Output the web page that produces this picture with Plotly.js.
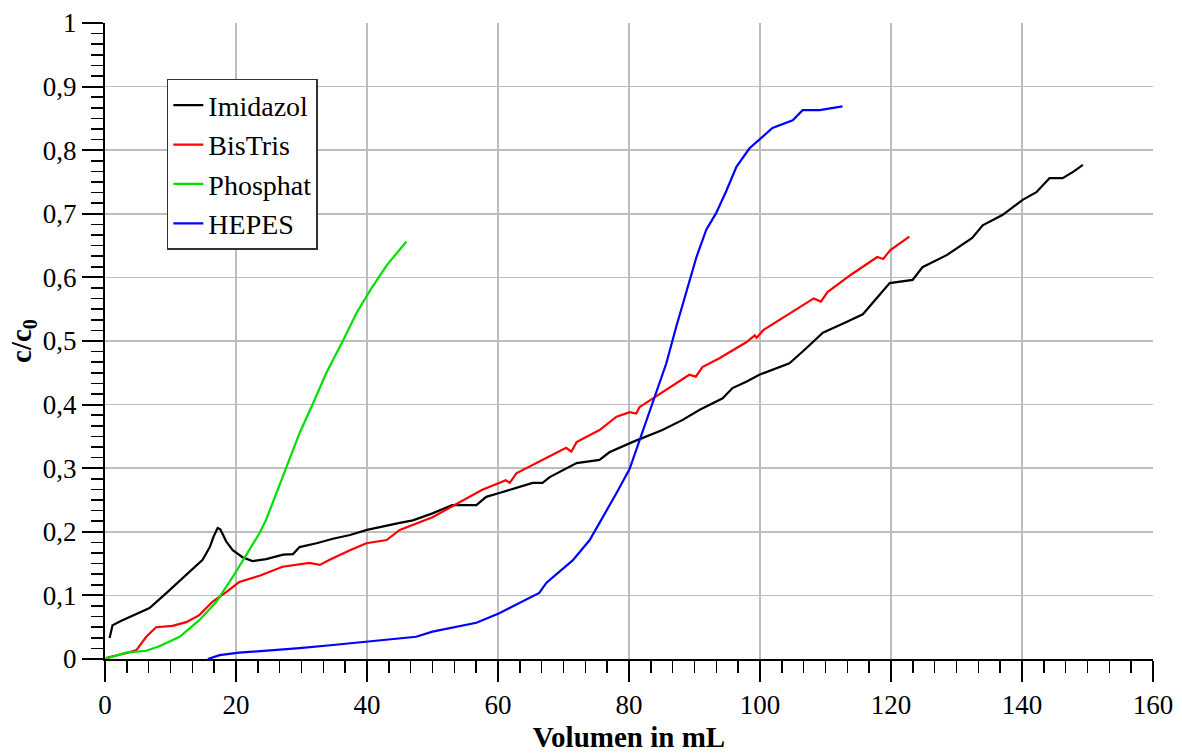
<!DOCTYPE html>
<html>
<head>
<meta charset="utf-8">
<script src="https://cdn.plot.ly/plotly-3.0.1.min.js"></script>
<style>html,body{margin:0;padding:0;background:#fff;}#chart{width:1182px;height:753px;}</style>
</head>
<body>
<div id="chart"></div>
<script>
// Series names
const seriesNames = ["Imidazol", "BisTris", "Phosphat", "HEPES"];

// Imidazol
const imidazolX = [0.7,1.15,2.5,4.2,6.8,9.4,11.8,14.9,16.0,16.6,17.2,17.6,18.5,19.5,21.0,22.5,24.6,27.2,28.7,29.7,32.3,34.8,37.4,40.0,45.0,47,50,53,56.7,58.2,60.2,65.3,66.8,67.9,72,75.5,77,80.5,85.1,88.2,90.8,94.3,95.8,97.9,99.9,104.5,107.1,109.6,113.2,115.7,119.8,123.3,124.8,128.5,132.4,134,137,140.1,142.2,144.2,146.2,147.8,149.3];
const imidazolC = [0.033,0.053,0.060,0.068,0.080,0.104,0.127,0.156,0.176,0.193,0.206,0.204,0.185,0.171,0.160,0.154,0.157,0.164,0.165,0.176,0.182,0.189,0.195,0.203,0.214,0.218,0.229,0.242,0.242,0.255,0.261,0.277,0.277,0.286,0.308,0.313,0.325,0.341,0.360,0.376,0.392,0.410,0.426,0.436,0.447,0.465,0.489,0.513,0.530,0.542,0.591,0.596,0.616,0.635,0.662,0.682,0.698,0.722,0.734,0.756,0.756,0.766,0.777];

// BisTris
const bistrisX = [0.2,3.2,4.8,6.3,7.8,10.3,12.4,14.4,16.4,18.5,20.5,23.6,27.1,31.2,32.8,34.3,37.4,39.9,43,45,50,57.6,61.2,61.8,62.8,70.4,71.2,72,75.5,78.1,80.1,81.1,81.6,85.7,89.2,90.2,91.2,93.8,97.9,99.2,99.5,100.5,104,108.2,109.3,110.3,114,117.9,118.8,119.9,122.8];
const bistrisC = [0.002,0.009,0.014,0.035,0.050,0.052,0.058,0.069,0.090,0.105,0.121,0.131,0.145,0.151,0.148,0.156,0.171,0.182,0.187,0.203,0.223,0.266,0.281,0.277,0.292,0.332,0.326,0.341,0.360,0.381,0.388,0.386,0.396,0.423,0.447,0.444,0.459,0.473,0.498,0.509,0.505,0.517,0.540,0.567,0.562,0.577,0.605,0.632,0.629,0.643,0.664];

// Phosphat
const phosphatX = [0,3.2,6.3,8.3,11.4,14.4,17,19.5,21.6,23.6,24.6,27.7,29.7,31.8,33.8,36.4,38.4,40.5,43,46];
const phosphatC = [0,0.010,0.013,0.020,0.035,0.061,0.090,0.129,0.164,0.198,0.219,0.302,0.355,0.403,0.450,0.502,0.544,0.580,0.619,0.656];

// HEPES
const hepesX = [15.7,17.5,20.5,24.6,29.7,34.8,39.9,45,47.5,50,56.7,60.2,66.3,67.4,71.4,74,76,78.1,80.1,81.6,83.6,85.7,87.2,88.8,90.3,91.8,93.3,94.9,96.4,98.4,100.4,101.9,105,106.5,109.1,112.6];
const hepesC = [0,0.006,0.010,0.013,0.017,0.022,0.027,0.032,0.035,0.043,0.057,0.072,0.104,0.120,0.155,0.187,0.222,0.261,0.299,0.344,0.402,0.465,0.522,0.580,0.632,0.675,0.701,0.737,0.774,0.803,0.821,0.835,0.847,0.863,0.863,0.869];

// Axis titles
const xTitle = "<b>Volumen in mL</b>";
const yTitle = "<b>c/c<sub>0</sub></b>";
const colors = ["#000000", "#ff0000", "#00e000", "#0000ff"];

const xs = [imidazolX, bistrisX, phosphatX, hepesX];
const ys = [imidazolC, bistrisC, phosphatC, hepesC];

const serif = "Liberation Serif";

const traces = seriesNames.map((n, i) => ({
  type: "scatter", mode: "lines", name: n,
  x: xs[i], y: ys[i],
  line: {color: colors[i], width: 2.2}
}));

const layout = {
  width: 1182, height: 753,
  margin: {l: 105, r: 29, t: 23, b: 94},
  paper_bgcolor: "#fff", plot_bgcolor: "#fff",
  separators: ",.",
  font: {family: serif, color: "#000"},
  showlegend: true,
  legend: {
    x: 0.059, y: 0.912, xanchor: "left", yanchor: "top",
    bgcolor: "#fff", bordercolor: "#333", borderwidth: 1.5,
    font: {family: serif, size: 28, color: "#000"},
    itemwidth: 30, tracegroupgap: 0
  },
  xaxis: {
    range: [0, 160], tick0: 0, dtick: 20, fixedrange: true,
    ticks: "outside", ticklen: 21, tickwidth: 2, tickcolor: "#000",
    showline: true, linecolor: "#000", linewidth: 2,
    showgrid: true, gridcolor: "#bdbdbd", gridwidth: 1.5, zeroline: false,
    minor: {dtick: 20/6, tick0: 0, ticks: "outside", ticklen: 12, tickwidth: 1.5, tickcolor: "#000", showgrid: false},
    tickfont: {family: serif, size: 27, color: "#000"},
    title: {text: xTitle, font: {family: serif, size: 29, color: "#000"}}
  },
  yaxis: {
    range: [0, 1], tick0: 0, dtick: 0.1, fixedrange: true,
    ticks: "outside", ticklen: 21, tickwidth: 2, tickcolor: "#000",
    showline: true, linecolor: "#000", linewidth: 2,
    showgrid: true, gridcolor: "#bdbdbd", gridwidth: 1.5, zeroline: false,
    minor: {dtick: 0.1/6, tick0: 0, ticks: "outside", ticklen: 12, tickwidth: 1.5, tickcolor: "#000", showgrid: false},
    tickfont: {family: serif, size: 27, color: "#000"},
    title: {text: yTitle, font: {family: serif, size: 29, color: "#000"}}
  }
};

Plotly.newPlot("chart", traces, layout, {displayModeBar: false, staticPlot: true});
</script>
</body>
</html>
